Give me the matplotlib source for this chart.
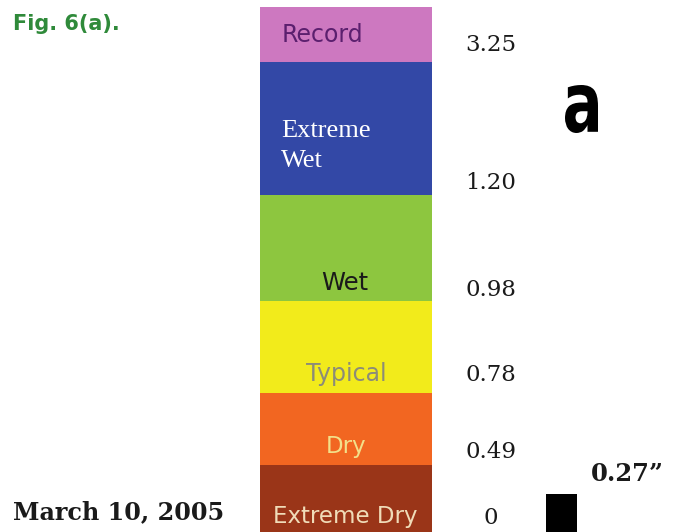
import matplotlib
matplotlib.use("Agg")
import matplotlib.pyplot as plt
from matplotlib.textpath import TextPath
from matplotlib.patches import PathPatch
from matplotlib.font_manager import FontProperties
import matplotlib.transforms as mtransforms

# ---- data ----
categories = ["Record", "Extreme\nWet", "Wet", "Typical", "Dry", "Extreme Dry"]
thresholds = ["3.25", "1.20", "0.98", "0.78", "0.49", "0"]
observed_value = 0.27
observed_label = "0.27\u201d"
date_label = "March 10, 2005"
fig_label = "Fig. 6(a)."
panel_letter = "a"

# ---- layout / style ----
seg_colors = ["#cd78c0", "#3348a6", "#8dc63f", "#f2eb1b", "#f26621", "#9a3518"]
seg_edges = [7, 62, 195, 301, 393, 465, 532]   # pixel boundaries of bar segments
bar_x0, bar_x1 = 260, 432
label_y = [35, 146, 283, 374, 446, 517]
label_colors = ["#5b1f6e", "#ffffff", "#1a1a1a", "#8c8c78", "#f3e08a", "#f0dcb8"]
label_fonts = ["DejaVu Sans", "Liberation Serif", "DejaVu Sans", "DejaVu Sans",
               "DejaVu Sans", "DejaVu Sans"]
label_sizes = [17, 19, 17.5, 17, 16.5, 16.5]
label_x = [282, 281, 345, 346, 346, 345]
label_ha = ["left", "left", "center", "center", "center", "center"]
thr_y = [45, 183, 290, 375, 452, 518]
px_per_inch = 38 / 0.27

fig = plt.figure(figsize=(6.73, 5.32), dpi=100)
ax = fig.add_axes([0, 0, 1, 1])
ax.set_xlim(0, 673)
ax.set_ylim(532, 0)
ax.axis("off")

tops = seg_edges[:-1]
heights = [b - t for t, b in zip(seg_edges[:-1], seg_edges[1:])]
ax.bar([(bar_x0 + bar_x1) / 2] * len(categories), heights, bottom=tops,
       width=bar_x1 - bar_x0, color=seg_colors, edgecolor="none")

for cat, y, c, f, s, x, ha in zip(categories, label_y, label_colors, label_fonts,
                                  label_sizes, label_x, label_ha):
    ax.text(x, y, cat, color=c, family=f, fontsize=s, ha=ha, va="center",
            linespacing=1.5, multialignment="left")

for t, y in zip(thresholds, thr_y):
    ax.text(491, y, t, family="DejaVu Serif", fontsize=16.5, ha="center",
            va="center", color="#1a1a1a")

# observed amount bar
h = observed_value * px_per_inch
ax.bar(561.5, -h, bottom=532, width=31, color="black")
ax.text(627, 474, observed_label, family="DejaVu Serif", fontweight="bold",
        fontsize=17.5, ha="center", va="center", color="#1a1a1a")

# texts
ax.text(13, 24, fig_label, family="DejaVu Sans", fontweight="bold", fontsize=15,
        color="#2f8a3a", ha="left", va="center")
ax.text(13, 512, date_label, family="DejaVu Serif", fontweight="bold", fontsize=17.2,
        color="#1a1a1a", ha="left", va="center")

# condensed bold panel letter
fp = FontProperties(family="DejaVu Sans", weight="bold")
tp = TextPath((0, 0), panel_letter, size=60, prop=fp)
ext = tp.get_extents()
sx = 33 / ext.width
sy = 48 / ext.height
tr = (mtransforms.Affine2D().translate(-ext.x0, -ext.y0).scale(sx, -sy)
      .translate(565, 133)) + ax.transData
ax.add_patch(PathPatch(tp, transform=tr, color="black", lw=0))

fig.savefig("out.png", dpi=100)
